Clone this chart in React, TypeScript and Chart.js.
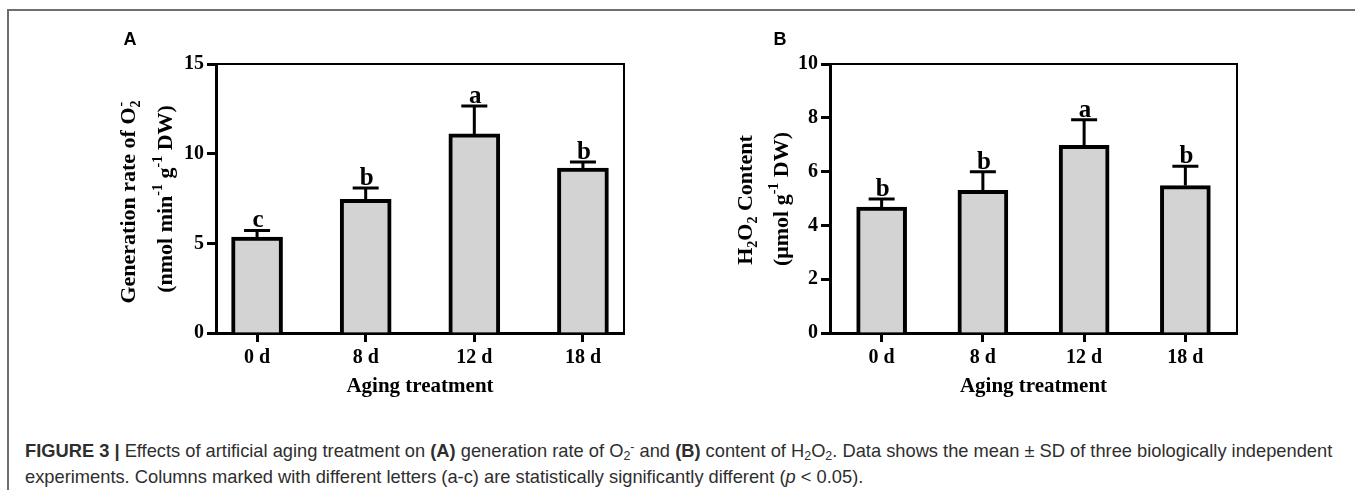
import React, { useEffect, useRef } from 'react';
import { Chart, registerables } from 'chart.js';

Chart.register(...registerables);

// Aging treatment groups shared by both panels
const CATEGORIES = ['0 d', '8 d', '12 d', '18 d'];

// Panel A: generation rate of superoxide (nmol min-1 g-1 DW)
const O2_MEAN = [5.35, 7.45, 11.1, 9.2];
const O2_SD = [0.37, 0.64, 1.56, 0.34];
const O2_LETTERS = ['c', 'b', 'a', 'b'];
const O2_TICKS = [0, 5, 10, 15];

// Panel B: hydrogen peroxide content (umol g-1 DW)
const H2O2_MEAN = [4.68, 5.3, 6.98, 5.48];
const H2O2_SD = [0.3, 0.69, 0.95, 0.72];
const H2O2_LETTERS = ['b', 'b', 'a', 'b'];
const H2O2_TICKS = [0, 2, 4, 6, 8, 10];

const SERIF = '"Liberation Serif", "Times New Roman", serif';
const SANS = '"Liberation Sans", Arial, Helvetica, sans-serif';

type Seg = { t: string; k?: 'sub' | 'sup' | 'stack' };

// Draws a run of text with sub/superscripts, centred along its length.
function drawRich(
  ctx: CanvasRenderingContext2D,
  segs: Seg[],
  cx: number,
  baseline: number,
  size: number,
  vertical: boolean
) {
  const base = `bold ${size}px ${SERIF}`;
  const small = `bold ${Math.round(size * 0.64)}px ${SERIF}`;
  const layout: { t: string; font: string; x: number; dy: number }[] = [];
  let x = 0;
  let prevStart = 0;
  for (const s of segs) {
    const font = s.k ? small : base;
    ctx.font = font;
    const w = ctx.measureText(s.t).width;
    if (s.k === 'stack') {
      // superscript stacked above the preceding subscript
      layout.push({ t: s.t, font, x: prevStart + 1, dy: -size * 0.45 });
      x = Math.max(x, prevStart + 1 + w);
    } else {
      const dy = s.k === 'sub' ? size * 0.22 : s.k === 'sup' ? -size * 0.45 : 0;
      layout.push({ t: s.t, font, x, dy });
      prevStart = x;
      x += w;
    }
  }
  const total = x;
  ctx.save();
  ctx.fillStyle = '#000';
  ctx.textBaseline = 'alphabetic';
  ctx.textAlign = 'left';
  if (vertical) {
    // cx = x of the baseline, baseline = vertical centre of the run
    ctx.translate(cx, baseline);
    ctx.rotate(-Math.PI / 2);
    for (const l of layout) {
      ctx.font = l.font;
      ctx.fillText(l.t, -total / 2 + l.x, l.dy);
    }
  } else {
    for (const l of layout) {
      ctx.font = l.font;
      ctx.fillText(l.t, cx - total / 2 + l.x, baseline + l.dy);
    }
  }
  ctx.restore();
}

type PanelProps = {
  left: number;
  width: number;
  height: number;
  plotLeft: number;
  plotRight: number;
  plotTop: number;
  plotBottom: number;
  xOffset: number;
  barWidth: number;
  yMax: number;
  ticks: number[];
  means: number[];
  sds: number[];
  letters: string[];
  panel: string;
  panelX: number;
  titleLines: { segs: Seg[]; x: number; y: number }[];
};

function BarPanel(p: PanelProps) {
  const ref = useRef<HTMLCanvasElement>(null);

  useEffect(() => {
    const tickFont = { family: SERIF, weight: 'bold' as const, size: 20 };

    const decor = {
      id: 'decor',
      afterDatasetsDraw(chart: any) {
        const ctx: CanvasRenderingContext2D = chart.ctx;
        const xs = chart.scales.x;
        const ys = chart.scales.y;
        const area = chart.chartArea;

        // error bars (upper side only) and significance letters
        ctx.save();
        ctx.strokeStyle = '#000';
        ctx.lineWidth = 3;
        ctx.lineCap = 'butt';
        p.means.forEach((m, i) => {
          const x = xs.getPixelForValue(i);
          const yTop = ys.getPixelForValue(m);
          const yCap = ys.getPixelForValue(m + p.sds[i]);
          ctx.beginPath();
          ctx.moveTo(x, yTop);
          ctx.lineTo(x, yCap);
          ctx.moveTo(x - 13, yCap);
          ctx.lineTo(x + 13, yCap);
          ctx.stroke();
          ctx.font = `bold 25px ${SERIF}`;
          ctx.fillStyle = '#000';
          ctx.textAlign = 'center';
          ctx.textBaseline = 'alphabetic';
          ctx.fillText(p.letters[i], x + 1, yCap - 3);
        });
        ctx.restore();

        // top and right frame
        ctx.save();
        ctx.strokeStyle = '#000';
        ctx.lineWidth = 2;
        ctx.beginPath();
        ctx.moveTo(area.left, area.top);
        ctx.lineTo(area.right, area.top);
        ctx.lineTo(area.right, area.bottom);
        ctx.stroke();
        ctx.restore();
      },
      afterDraw(chart: any) {
        const ctx: CanvasRenderingContext2D = chart.ctx;
        const area = chart.chartArea;
        // y-axis title
        p.titleLines.forEach((l) => drawRich(ctx, l.segs, l.x, l.y, 22, true));
        // x-axis title
        ctx.save();
        ctx.font = `bold 21px ${SERIF}`;
        ctx.fillStyle = '#000';
        ctx.textAlign = 'center';
        ctx.textBaseline = 'alphabetic';
        ctx.fillText('Aging treatment', (area.left + area.right) / 2, 392);
        // panel letter
        ctx.font = `bold 18px ${SANS}`;
        ctx.fillText(p.panel, p.panelX, 45);
        ctx.restore();
      },
    };

    const chart = new Chart(ref.current as HTMLCanvasElement, {
      type: 'bar',
      data: {
        datasets: [
          {
            data: p.means.map((y, i) => ({ x: i, y })) as any,
            backgroundColor: '#d3d3d3',
            borderColor: '#000',
            borderWidth: 4,
            barThickness: p.barWidth,
          },
        ],
      },
      options: {
        responsive: false,
        animation: false,
        devicePixelRatio: 1,
        layout: {
          padding: {
            left: 0,
            top: p.plotTop,
            right: p.width - p.plotRight,
            bottom: 0,
          },
        },
        plugins: { legend: { display: false }, tooltip: { enabled: false } },
        scales: {
          x: {
            type: 'linear',
            offset: false,
            min: -p.xOffset,
            max: CATEGORIES.length - 1 + p.xOffset,
            afterBuildTicks: (s: any) => {
              s.ticks = CATEGORIES.map((_, i) => ({ value: i }));
            },
            afterFit: (s: any) => {
              s.height = p.height - p.plotBottom;
            },
            ticks: {
              callback: (v: any) => CATEGORIES[Math.round(Number(v))],
              font: tickFont,
              color: '#000',
              padding: 4,
              autoSkip: false,
              maxRotation: 0,
            },
            grid: {
              offset: false,
              drawOnChartArea: false,
              drawTicks: true,
              tickLength: 9,
              tickWidth: 3,
              tickColor: '#000',
            },
            border: { display: true, color: '#000', width: 3 },
          },
          y: {
            min: 0,
            max: p.yMax,
            afterBuildTicks: (s: any) => {
              s.ticks = p.ticks.map((v) => ({ value: v }));
            },
            afterFit: (s: any) => {
              s.width = p.plotLeft;
            },
            ticks: {
              callback: (v: any) => String(v),
              font: tickFont,
              color: '#000',
              padding: 3,
            },
            grid: {
              drawOnChartArea: false,
              drawTicks: true,
              tickLength: 9,
              tickWidth: 3,
              tickColor: '#000',
            },
            border: { display: true, color: '#000', width: 3 },
          },
        },
      } as any,
      plugins: [decor],
    });
    return () => chart.destroy();
  }, []);

  return (
    <canvas
      ref={ref}
      width={p.width}
      height={p.height}
      style={{ position: 'absolute', left: p.left, top: 0, width: p.width, height: p.height }}
    />
  );
}

const subStyle: React.CSSProperties = { fontSize: '0.68em', verticalAlign: '-0.25em', lineHeight: 0 };
const supStyle: React.CSSProperties = { fontSize: '0.68em', verticalAlign: '0.5em', lineHeight: 0 };

export default function App() {
  const capRef = useRef<HTMLDivElement>(null);

  useEffect(() => {
    const box = capRef.current;
    if (!box) return;
    const first = box.children[0] as HTMLElement;
    const w = first.scrollWidth;
    if (w > 0) box.style.transform = `scaleX(${1307 / w})`;
  }, []);

  return (
    <div style={{ position: 'absolute', left: 0, top: 0, width: 1355, height: 490, background: '#fff', overflow: 'hidden' }}>
      <div
        style={{
          position: 'absolute',
          left: 7,
          top: 9,
          width: 1360,
          height: 500,
          borderTop: '2px solid #6e6e6e',
          borderLeft: '2px solid #6e6e6e',
        }}
      />
      <BarPanel
        left={0}
        width={680}
        height={420}
        plotLeft={216}
        plotRight={624}
        plotTop={64}
        plotBottom={333}
        xOffset={0.378}
        barWidth={51}
        yMax={15}
        ticks={O2_TICKS}
        means={O2_MEAN}
        sds={O2_SD}
        letters={O2_LETTERS}
        panel="A"
        panelX={130}
        titleLines={[
          {
            segs: [
              { t: 'Generation rate of O' },
              { t: '2', k: 'sub' },
              { t: '-', k: 'stack' },
            ],
            x: 135,
            y: 202,
          },
          {
            segs: [
              { t: '(nmol min' },
              { t: '-1', k: 'sup' },
              { t: ' g' },
              { t: '-1', k: 'sup' },
              { t: ' DW)' },
            ],
            x: 172,
            y: 199,
          },
        ]}
      />
      <BarPanel
        left={680}
        width={675}
        height={420}
        plotLeft={150}
        plotRight={557}
        plotTop={64}
        plotBottom={333}
        xOffset={0.51}
        barWidth={50}
        yMax={10}
        ticks={H2O2_TICKS}
        means={H2O2_MEAN}
        sds={H2O2_SD}
        letters={H2O2_LETTERS}
        panel="B"
        panelX={100}
        titleLines={[
          {
            segs: [
              { t: 'H' },
              { t: '2', k: 'sub' },
              { t: 'O' },
              { t: '2', k: 'sub' },
              { t: ' Content' },
            ],
            x: 72,
            y: 200,
          },
          {
            segs: [{ t: '(\u03BCmol g' }, { t: '-1', k: 'sup' }, { t: ' DW)' }],
            x: 108,
            y: 199,
          },
        ]}
      />
      <div
        ref={capRef}
        style={{
          position: 'absolute',
          left: 25,
          top: 438,
          transformOrigin: '0 0',
          fontFamily: SANS,
          fontSize: 19,
          lineHeight: '26px',
          color: '#2e2e2e',
          whiteSpace: 'nowrap',
        }}
      >
        <div style={{ display: 'inline-block' }}>
          <b>FIGURE 3 |</b> Effects of artificial aging treatment on <b>(A)</b> generation rate of O
          <span style={subStyle}>2</span>
          <span style={supStyle}>-</span> and <b>(B)</b> content of H<span style={subStyle}>2</span>O
          <span style={subStyle}>2</span>. Data shows the mean ± SD of three biologically independent
        </div>
        <div>
          experiments. Columns marked with different letters (a-c) are statistically significantly different (
          <i>p</i> &lt; 0.05).
        </div>
      </div>
    </div>
  );
}
